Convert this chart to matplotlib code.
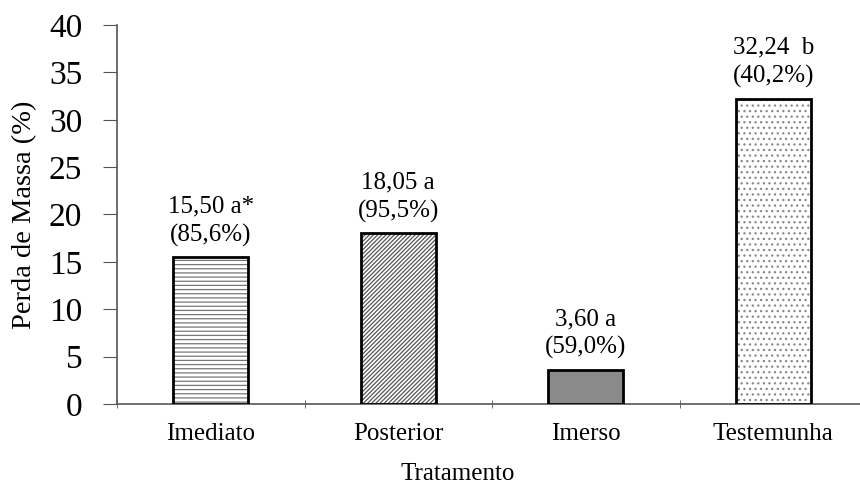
import matplotlib
matplotlib.use('Agg')
import matplotlib.pyplot as plt

plt.rcParams['font.family'] = ['Liberation Serif', 'DejaVu Serif']
plt.rcParams['hatch.linewidth'] = 0.9

tratamentos = ['Imediato', 'Posterior', 'Imerso', 'Testemunha']
perda = [15.50, 18.05, 3.60, 32.24]
letras = ['a*', 'a', 'a', ' b']
eficiencia = ['85,6%', '95,5%', '59,0%', '40,2%']

fills = ['white', 'white', '#8a8a8a', 'white']
hatch_cols = ['#777777', '#555555', '#8a8a8a', '#888888']
hatches = ['----', '////////', '', '...']

fig = plt.figure(figsize=(8.6, 4.86), dpi=100)
ax = fig.add_axes([117 / 860, 82 / 486, 750 / 860, 379 / 486])

x = list(range(len(tratamentos)))
for i in x:
    ax.bar(i, perda[i], width=0.4, color=fills[i], edgecolor=hatch_cols[i],
           linewidth=0, hatch=hatches[i], zorder=3)
    ax.bar(i, perda[i], width=0.4, color='none', edgecolor='black',
           linewidth=2, zorder=4)
    lab = '%s %s\n(%s)' % (('%.2f' % perda[i]).replace('.', ','), letras[i], eficiencia[i])
    ax.text(i, perda[i] + 1.1, lab, ha='center', va='bottom', fontsize=18,
            linespacing=1.35)

ax.set_xlim(-0.5, 3.5)
ax.set_ylim(0, 40)
ax.set_yticks(range(0, 41, 5))
ax.set_xticks(x)
ax.set_xticklabels(tratamentos, fontsize=18)
ax.set_xticks([-0.5, 0.5, 1.5, 2.5], minor=True)
ax.tick_params(axis='x', which='major', length=0, pad=14)
ax.tick_params(axis='x', which='minor', length=6, direction='inout', color='#555555')
ax.tick_params(axis='y', labelsize=24, length=10, direction='out', color='#555555', pad=15)

for s in ['top', 'right']:
    ax.spines[s].set_visible(False)
ax.spines['left'].set_color('#555555')
ax.spines['bottom'].set_color('#555555')
ax.spines['left'].set_linewidth(1.2)
ax.spines['bottom'].set_linewidth(1.2)

ax.set_ylabel('Perda de Massa (%)', fontsize=20.5)
ax.yaxis.set_label_coords(-80 / 750, 0.5)
fig.text(458 / 860, 1 - 474 / 486, 'Tratamento', ha='center', va='center', fontsize=18)

fig.savefig('out.png', dpi=100)
